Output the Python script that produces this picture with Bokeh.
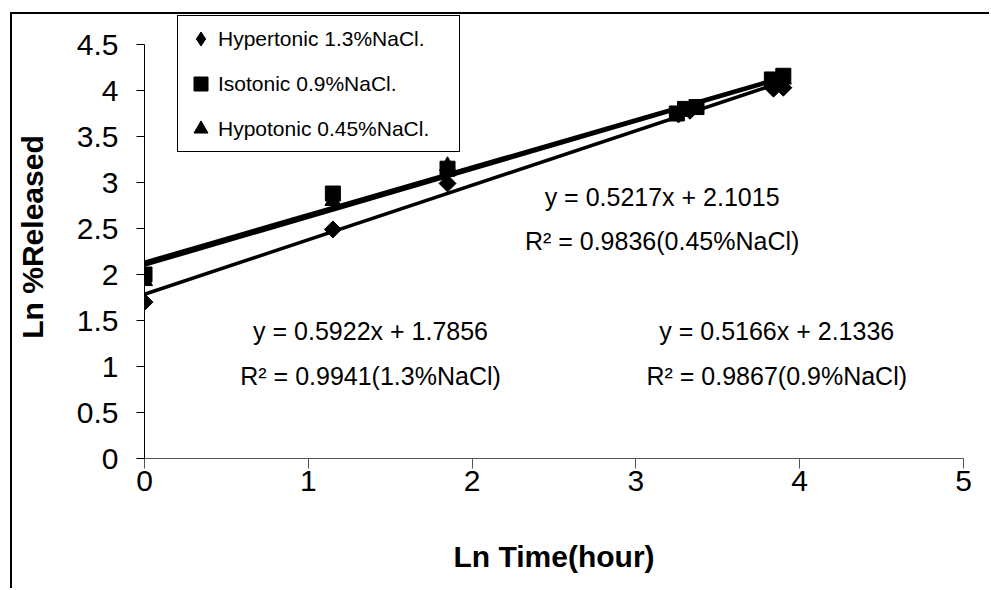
import numpy as np
from bokeh.plotting import figure
from bokeh.models import (Range1d, Legend, LegendItem, FixedTicker,
                          NumeralTickFormatter, ColumnDataSource)
from bokeh.embed import file_html
from bokeh.resources import INLINE
from bokeh.core.properties import value

# ---- data ----
series_names = ["Hypertonic 1.3%NaCl.", "Isotonic 0.9%NaCl.", "Hypotonic 0.45%NaCl."]
hyper_x = [0.0, 1.15, 1.85, 3.26, 3.33, 3.84, 3.90]
hyper_y = [1.70, 2.49, 2.99, 3.74, 3.78, 4.02, 4.03]
iso_x = [0.0, 1.15, 1.85, 3.25, 3.30, 3.37, 3.83, 3.90]
iso_y = [2.00, 2.88, 3.15, 3.75, 3.80, 3.82, 4.12, 4.16]
hypo_x = [0.0, 1.15, 1.85, 3.27, 3.35, 3.85, 3.90]
hypo_y = [1.93, 2.80, 3.18, 3.77, 3.80, 4.10, 4.12]
slopes = [0.5922, 0.5166, 0.5217]
intercepts = [1.7856, 2.1336, 2.1015]
r_squared = [0.9941, 0.9867, 0.9836]
nacl_labels = ["1.3%NaCl", "0.9%NaCl", "0.45%NaCl"]
eq_x = [1.38, 3.86, 3.16]
eq_y = [1.39, 1.39, 2.84]
r2_y = [0.90, 0.90, 2.36]
y_ticks = [0, 0.5, 1, 1.5, 2, 2.5, 3, 3.5, 4, 4.5]
x_ticks = [0, 1, 2, 3, 4, 5]

FONT = "Liberation Sans"
OFF_X, OFF_Y = 12, 14   # outer chart-area border offset (margin + border)
FRAME_TOP = 15          # window y of plot frame top (room for the legend)
PX_PER_UNIT = 92.0
Y_END = (458 - FRAME_TOP) / PX_PER_UNIT

p = figure(width=991 - OFF_X, height=590 - OFF_Y, x_range=Range1d(0, 5), y_range=Range1d(0, Y_END),
           output_backend="svg", toolbar_location=None,
           min_border_left=143 - OFF_X, min_border_right=28, min_border_top=FRAME_TOP - OFF_Y,
           min_border_bottom=132)
p.styles = {"margin-left": "10px", "margin-top": "12px",
            "border-left": "2px solid black", "border-top": "2px solid black"}
p.outline_line_color = None
p.xgrid.visible = False
p.ygrid.visible = False
p.background_fill_color = "white"
p.border_fill_color = "white"

# axes
p.xaxis.ticker = FixedTicker(ticks=x_ticks)
p.yaxis.ticker = FixedTicker(ticks=y_ticks)
p.yaxis.bounds = (0, 4.5)
p.yaxis.formatter = NumeralTickFormatter(format="0.[0]")
for ax in (p.xaxis[0], p.yaxis[0]):
    ax.minor_tick_line_color = None
    ax.major_label_text_font = FONT
    ax.major_label_text_font_size = "30px"
    ax.major_label_text_color = "black"
    ax.axis_label_text_font = FONT
    ax.axis_label_text_font_style = "bold"
    ax.axis_label_text_font_size = "30px"
    ax.axis_label_text_color = "black"
    ax.axis_line_color = "black"
    ax.major_tick_line_color = "black"
    ax.major_tick_in = 0
p.xaxis.axis_line_color = "#555555"
p.xaxis.major_tick_line_color = "#555555"
p.xaxis.major_tick_out = 10
p.yaxis.major_tick_out = 8
p.xaxis.axis_label = "Ln Time(hour)"
p.yaxis.axis_label = "Ln %Released"
p.xaxis.major_label_standoff = 2
p.yaxis.major_label_standoff = 18
p.xaxis.axis_label_standoff = 46
p.yaxis.axis_label_standoff = 25

# trend lines
xs_all = [hyper_x, iso_x, hypo_x]
for xs, m, b in zip(xs_all, slopes, intercepts):
    lx = np.array([min(xs), max(xs)])
    p.line(lx, m * lx + b, line_color="black", line_width=3.5)

# legend key for the diamond series (tiny, hidden under the real markers;
# legend swatches are drawn unrotated at a fixed size)
r_hyper_key = p.scatter(hyper_x, hyper_y, marker="diamond", size=1,
                        fill_color="black", line_color="black")
# markers
r_hyper = p.scatter(hyper_x, hyper_y, marker="square", angle=np.pi / 4, size=12,
                    fill_color="black", line_color="black")
r_iso = p.scatter(iso_x, iso_y, marker="square", size=15, fill_color="black", line_color="black")
r_hypo = p.scatter(hypo_x, hypo_y, marker="triangle", size=16, fill_color="black", line_color="black")

# equation labels
eq_lines = [f"y = {m:.4f}x + {b:.4f}" for m, b in zip(slopes, intercepts)]
r2_lines = [f"R\u00b2 = {r:.4f}({n})" for r, n in zip(r_squared, nacl_labels)]
src_eq = ColumnDataSource(dict(x=eq_x, y=eq_y, t=eq_lines))
src_r2 = ColumnDataSource(dict(x=eq_x, y=r2_y, t=r2_lines))
for src in (src_eq, src_r2):
    p.text(x="x", y="y", text="t", source=src, text_font=value(FONT), text_font_size="25px",
           text_align="center", text_baseline="middle", text_color="black")

# legend
legend = Legend(items=[LegendItem(label=series_names[0], renderers=[r_hyper_key]),
                       LegendItem(label=series_names[1], renderers=[r_iso]),
                       LegendItem(label=series_names[2], renderers=[r_hypo])],
                location=(33, 306))
legend.border_line_color = "black"
legend.border_line_alpha = 1
legend.border_line_width = 1
legend.background_fill_color = "white"
legend.background_fill_alpha = 1
legend.label_text_font = FONT
legend.label_text_font_size = "21px"
legend.label_text_color = "black"
legend.glyph_width = 35
legend.glyph_height = 35
legend.label_height = 35
legend.label_standoff = 0
legend.spacing = 10
legend.padding = 5
legend.margin = 0
legend.label_width = 236
p.add_layout(legend)

open("out.html", "w").write(file_html(p, INLINE))
